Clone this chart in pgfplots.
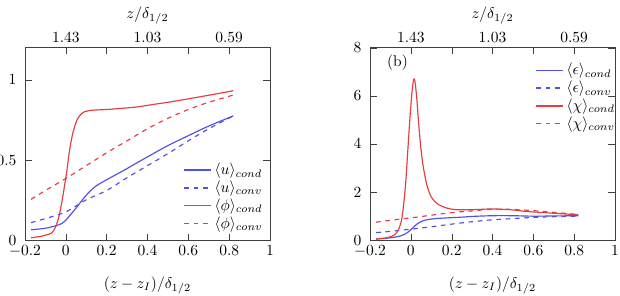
\documentclass[border=0pt]{standalone}
\usepackage{pgfplots}
\pgfplotsset{compat=1.18}

\definecolor{cblue}{RGB}{80,80,235}
\definecolor{cred}{RGB}{228,62,62}

\pgfplotsset{
  panel/.style={
    scale only axis,
    width=158.1pt, height=124.2pt,
    xmin=-0.2, xmax=1,
    xtick={-0.2,0,0.2,0.4,0.6,0.8,1},
    axis line style={black!75},
    tick style={black!75},
    xlabel={$(z-z_I)/\delta_{1/2}$},
    xlabel style={yshift=-6pt},
    yticklabel style={xshift=-2pt},
    legend cell align=left,
    legend image code/.code={\draw[##1, line width=0.9pt] (0pt,0pt) -- (17pt,0pt);},
    legend style={draw=none, fill=none, row sep=-1.5pt, inner sep=1pt},
  },
  curve/.style={draw=#1, line width=0.75pt, smooth},
  toppanel/.style={
    scale only axis,
    width=158.1pt, height=124.2pt,
    xmin=-0.2, xmax=1,
    axis x line*=top,
    axis y line=none,
    xtick={0,0.4,0.8},
    xticklabels={1.43,1.03,0.59},
    major tick length=0pt,
    axis line style={draw=none},
    xticklabel style={yshift=-0.5pt},
    xlabel={$z/\delta_{1/2}$},
    xlabel style={yshift=-1.5pt},
  },
}

\begin{document}
\begin{tikzpicture}
% ---- left panel: velocity and scalar ----
\begin{axis}[panel, at={(0,0)}, anchor=south west,
  ymin=0, ymax=1.2, ytick={0,0.5,1},
  legend style={at={(0.99,0.025)}, anchor=south east}]
\addplot[curve=cblue] coordinates {
  (-0.17,0.065) (-0.1,0.075) (-0.05,0.09) (-0.02,0.104) (0,0.125)
  (0.02,0.155) (0.05,0.2) (0.08,0.25) (0.11,0.295) (0.15,0.34)
  (0.2,0.377) (0.25,0.412) (0.3,0.447) (0.35,0.484) (0.4,0.52)
  (0.5,0.59) (0.6,0.652) (0.7,0.712) (0.82,0.775)};
\addlegendentry{$\langle u\rangle_{cond}$}
\addplot[curve=cblue, dashed] coordinates {
  (-0.17,0.11) (-0.1,0.135) (0,0.177) (0.1,0.252) (0.2,0.31)
  (0.3,0.39) (0.4,0.465) (0.5,0.54) (0.6,0.62) (0.7,0.695) (0.82,0.775)};
\addlegendentry{$\langle u\rangle_{conv}$}
\addplot[curve=cred] coordinates {
  (-0.17,0.015) (-0.12,0.025) (-0.09,0.035) (-0.07,0.045) (-0.055,0.07)
  (-0.045,0.1) (-0.035,0.14) (-0.025,0.2) (-0.015,0.27) (-0.005,0.35)
  (0.005,0.43) (0.015,0.53) (0.025,0.61) (0.035,0.67) (0.045,0.715)
  (0.055,0.75) (0.07,0.78) (0.09,0.8) (0.12,0.809) (0.15,0.812)
  (0.2,0.815) (0.25,0.82) (0.3,0.825) (0.36,0.833) (0.42,0.845)
  (0.5,0.86) (0.58,0.877) (0.66,0.895) (0.74,0.913) (0.82,0.932)};
\addlegendentry{$\langle \phi\rangle_{cond}$}
\addplot[curve=cred, dashed] coordinates {
  (-0.17,0.255) (-0.1,0.31) (0,0.385) (0.1,0.465) (0.2,0.545)
  (0.3,0.62) (0.4,0.695) (0.5,0.76) (0.6,0.815) (0.7,0.86) (0.82,0.905)};
\addlegendentry{$\langle \phi\rangle_{conv}$}
\end{axis}
\begin{axis}[toppanel, at={(0,0)}, anchor=south west, ymin=0, ymax=1.2]
\addplot[draw=none] coordinates {(0,0)};
\end{axis}

% ---- right panel: dissipation rates ----
\begin{axis}[panel, at={(222.6pt,0)}, anchor=south west,
  ymin=0, ymax=8, ytick={0,2,4,6,8},
  legend style={at={(1.02,0.945)}, anchor=north east}]
\addplot[curve=cblue] coordinates {
  (-0.17,0.05) (-0.1,0.1) (-0.05,0.18) (-0.02,0.3) (0,0.44) (0.02,0.6)
  (0.04,0.73) (0.06,0.81) (0.085,0.86) (0.12,0.9) (0.18,0.93)
  (0.25,0.96) (0.3,0.99) (0.4,1.02) (0.5,1.02) (0.6,1.0) (0.7,1.01)
  (0.82,1.02)};
\addlegendentry{$\langle \epsilon\rangle_{cond}$}
\addplot[curve=cblue, dashed] coordinates {
  (-0.17,0.32) (-0.1,0.37) (0,0.46) (0.1,0.56) (0.2,0.67) (0.3,0.77)
  (0.4,0.85) (0.5,0.9) (0.6,0.95) (0.7,0.98) (0.82,1.0)};
\addlegendentry{$\langle \epsilon\rangle_{conv}$}
\addplot[curve=cred] coordinates {
  (-0.17,0.05) (-0.12,0.1) (-0.08,0.22) (-0.06,0.45) (-0.045,0.86)
  (-0.035,1.5) (-0.025,2.4) (-0.015,3.7) (-0.005,5.0) (0.005,6.1)
  (0.012,6.6) (0.017,6.7) (0.022,6.5) (0.03,5.8) (0.038,4.9)
  (0.046,4.1) (0.055,3.4) (0.065,2.85) (0.08,2.25) (0.1,1.8)
  (0.125,1.55) (0.15,1.42) (0.18,1.33) (0.22,1.27) (0.3,1.27)
  (0.4,1.3) (0.5,1.26) (0.56,1.2) (0.65,1.15) (0.72,1.11) (0.82,1.06)};
\addlegendentry{$\langle \chi\rangle_{cond}$}
\addplot[curve=cred, dashed] coordinates {
  (-0.17,0.75) (-0.1,0.83) (0,0.93) (0.1,1.04) (0.2,1.15) (0.3,1.22)
  (0.4,1.29) (0.5,1.28) (0.6,1.23) (0.7,1.16) (0.82,1.07)};
\addlegendentry{$\langle \chi\rangle_{conv}$}
\node at (axis cs:-0.065,7.4) {(b)};
\end{axis}
\begin{axis}[toppanel, at={(222.6pt,0)}, anchor=south west, ymin=0, ymax=8]
\addplot[draw=none] coordinates {(0,0)};
\end{axis}

\pgfresetboundingbox
\useasboundingbox (-16.1pt,-35.5pt) rectangle (383.9pt,155pt);
\end{tikzpicture}
\end{document}
